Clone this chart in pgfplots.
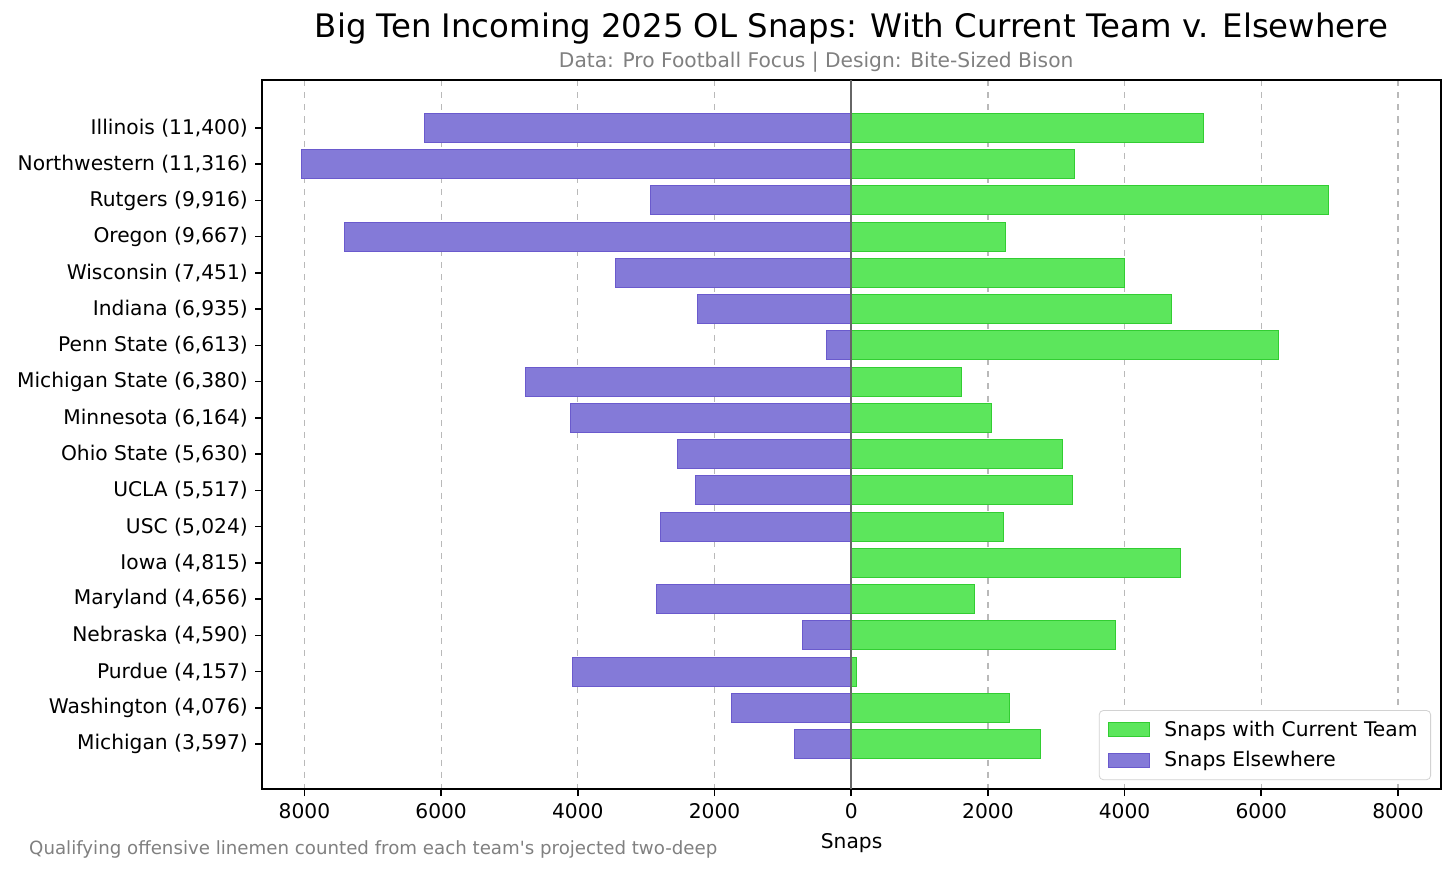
\documentclass[border=0pt]{standalone}
\usepackage{pgfplots}
\pgfplotsset{compat=1.18}
\usepackage{fontspec}
\setmainfont{DejaVu Sans}
\definecolor{curfill}{RGB}{92,230,92}
\definecolor{curedge}{RGB}{50,205,50}
\definecolor{elsefill}{RGB}{132,122,216}
\definecolor{elseedge}{RGB}{106,90,205}

% team order top to bottom; elsewhere snaps negative
\pgfplotstableread{
y cur else
0 5150 -6250
1 3270 -8046
2 6980 -2936
3 2260 -7407
4 4000 -3451
5 4690 -2245
6 6250 -363
7 1610 -4770
8 2050 -4114
9 3090 -2540
10 3240 -2277
11 2230 -2794
12 4815 0
13 1800 -2856
14 3870 -720
15 75 -4082
16 2320 -1756
17 2770 -827
}\snaps

\begin{document}
\begin{tikzpicture}
\begin{axis}[
    width=583pt, height=350.6pt, scale only axis,
    xbar, bar width=0.8, bar shift=0pt,
    y dir=reverse,
    xmin=-8620, xmax=8630,
    ymin=-1.32, ymax=18.24,
    ytick={0,...,17},
    yticklabels={Illinois (11{,}400),Northwestern (11{,}316),Rutgers (9{,}916),Oregon (9{,}667),Wisconsin (7{,}451),Indiana (6{,}935),Penn State (6{,}613),Michigan State (6{,}380),Minnesota (6{,}164),Ohio State (5{,}630),UCLA (5{,}517),USC (5{,}024),Iowa (4{,}815),Maryland (4{,}656),Nebraska (4{,}590),Purdue (4{,}157),Washington (4{,}076),Michigan (3{,}597)},
    xtick={-8000,-6000,...,8000},
    xticklabels={8000,6000,4000,2000,0,2000,4000,6000,8000},
    /pgf/number format/assume math mode=true,
    tick align=outside, tick pos=left,
    major tick length=3.5pt,
    tick style={black, line width=0.8pt},
    axis line style={line width=0.8pt},
    ticklabel style={font=\fontsize{10}{12}\selectfont},
    xmajorgrids, major grid style={gray!55, dashed, line width=0.6pt},
    xlabel={Snaps},
    xlabel style={at={(axis description cs:0.5,0)}, anchor=center, yshift=-26.7pt, font=\fontsize{10}{12}\selectfont},
    legend style={at={(0.9915,0.0127)}, anchor=south east, draw=gray!35, rounded corners=2pt,
        font=\fontsize{10}{12}\selectfont, row sep=2pt, inner xsep=4.5pt, inner ysep=3pt},
    legend image code/.code={\draw[#1, sharp corners] (0pt,-3.5pt) rectangle (20pt,3.5pt);
        \path[draw=none, fill=none] (20pt,0pt) -- (25.5pt,0pt);},
    legend cell align=left,
    clip=false,
]
\addplot[fill=curfill, draw=curedge, line width=0.5pt] table[x=cur, y=y] {\snaps};
\addlegendentry{Snaps with Current Team}
\addplot[fill=elsefill, draw=elseedge, line width=0.5pt] table[x=else, y=y] {\snaps};
\addlegendentry{Snaps Elsewhere}
\draw[black!60, line width=0.8pt] (axis cs:0,-1.32) -- (axis cs:0,18.24);
\end{axis}
\node at ([yshift=25.5pt]current axis.north) {\fontsize{16}{19}\selectfont Big Ten Incoming 2025 OL Snaps: With Current Team v. Elsewhere};
\node[text=gray] at ([xshift=-17.5pt,yshift=8.9pt]current axis.north) {\fontsize{10}{12}\selectfont Data: Pro Football Focus | Design: Bite-Sized Bison};
\node[text=gray, anchor=west] at ([xshift=-118.7pt,yshift=-30pt]current axis.south west) {\fontsize{9}{11}\selectfont Qualifying offensive linemen counted from each team\textquotesingle s projected two-deep};
\pgfresetboundingbox
\path ([xshift=-129.6pt,yshift=-42pt]current axis.south west) rectangle ([xshift=7.4pt,yshift=39.6pt]current axis.north east);
\end{tikzpicture}
\end{document}
